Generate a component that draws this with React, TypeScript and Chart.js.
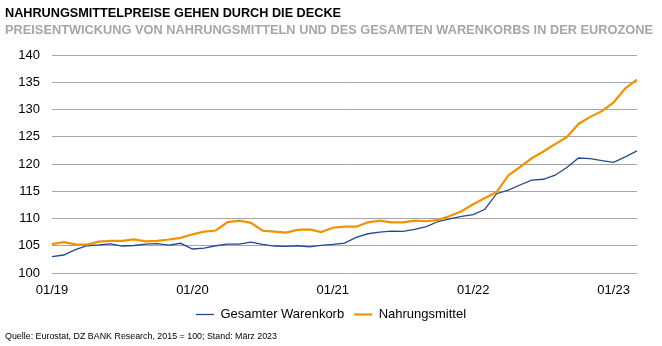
import React, { useEffect, useRef } from 'react';
import { Chart, registerables } from 'chart.js';

Chart.register(...registerables);

const labels: string[] = [
  '01/19', '02/19', '03/19', '04/19', '05/19', '06/19', '07/19', '08/19', '09/19', '10/19', '11/19', '12/19',
  '01/20', '02/20', '03/20', '04/20', '05/20', '06/20', '07/20', '08/20', '09/20', '10/20', '11/20', '12/20',
  '01/21', '02/21', '03/21', '04/21', '05/21', '06/21', '07/21', '08/21', '09/21', '10/21', '11/21', '12/21',
  '01/22', '02/22', '03/22', '04/22', '05/22', '06/22', '07/22', '08/22', '09/22', '10/22', '11/22', '12/22',
  '01/23', '02/23', '03/23',
];

const gesamterWarenkorb: number[] = [
  103.0, 103.3, 104.3, 105.0, 105.15, 105.35, 104.95, 105.05, 105.3, 105.4, 105.1, 105.45,
  104.4, 104.55, 105.0, 105.3, 105.3, 105.65, 105.25, 104.95, 104.9, 105.0, 104.8, 105.05,
  105.25, 105.5, 106.55, 107.2, 107.5, 107.7, 107.65, 108.0, 108.5, 109.45, 109.95, 110.4,
  110.7, 111.7, 114.55, 115.2, 116.15, 117.05, 117.2, 117.95, 119.35, 121.1, 121.0, 120.6,
  120.3, 121.3, 122.4,
];

const nahrungsmittel: number[] = [
  105.3, 105.65, 105.25, 105.2, 105.75, 105.9, 105.9, 106.15, 105.8, 105.9, 106.15, 106.45,
  107.1, 107.6, 107.8, 109.35, 109.6, 109.2, 107.75, 107.6, 107.4, 107.9, 108.0, 107.5,
  108.3, 108.5, 108.5, 109.3, 109.6, 109.3, 109.3, 109.6, 109.5, 109.75, 110.45, 111.35,
  112.6, 113.75, 114.85, 117.9, 119.45, 121.05, 122.3, 123.65, 124.95, 127.35, 128.65, 129.7,
  131.3, 133.9, 135.5,
];

const yMin = 100;
const yMax = 140;
const yStep = 5;

const title = 'NAHRUNGSMITTELPREISE GEHEN DURCH DIE DECKE';
const subtitle = 'PREISENTWICKUNG VON NAHRUNGSMITTELN UND DES GESAMTEN WARENKORBS IN DER EUROZONE';
const source = 'Quelle: Eurostat, DZ BANK Research, 2015 = 100; Stand: März 2023';

const regular = "'Liberation Sans', Arial, sans-serif";

export default function App() {
  const ref = useRef<HTMLCanvasElement>(null);

  useEffect(() => {
    document.body.style.margin = '0';
    const ctx = ref.current!.getContext('2d')!;
    const chart = new Chart(ctx, {
      type: 'line',
      data: {
        labels,
        datasets: [
          {
            label: 'Gesamter Warenkorb',
            data: gesamterWarenkorb,
            borderColor: '#23488f',
            backgroundColor: '#23488f',
            borderWidth: 1.3,
            pointRadius: 0,
            tension: 0,
            order: 1,
          },
          {
            label: 'Nahrungsmittel',
            data: nahrungsmittel,
            borderColor: '#f39200',
            backgroundColor: '#f39200',
            borderWidth: 2.2,
            pointRadius: 0,
            tension: 0,
            order: 0,
          },
        ],
      },
      options: {
        responsive: false,
        animation: false,
        layout: { padding: { top: 55, right: 0, left: 0, bottom: 15 } },
        plugins: {
          tooltip: { enabled: false },
          legend: {
            position: 'bottom',
            labels: {
              usePointStyle: true,
              pointStyle: 'line',
              pointStyleWidth: 18,
              color: '#000',
              font: { family: regular, size: 13 },
              padding: 10,
              sort: (a: any, b: any) => a.datasetIndex - b.datasetIndex,
            },
          },
        },
        scales: {
          x: {
            offset: false,
            afterFit: (s: any) => { s.height = 25; },
            grid: { display: false, drawTicks: false },
            border: { display: false },
            ticks: {
              autoSkip: false,
              maxRotation: 0,
              color: '#000',
              font: { family: regular, size: 13 },
              padding: 10,
              callback: (v: any, i: number) => (labels[i].startsWith('01/') ? labels[i] : ''),
            },
          },
          y: {
            min: yMin,
            max: yMax,
            afterFit: (s: any) => { s.width = 52; },
            grid: { color: '#a6a6a6', lineWidth: 1, drawTicks: false },
            border: { display: false },
            ticks: {
              stepSize: yStep,
              color: '#000',
              font: { family: regular, size: 13 },
              padding: 12,
            },
          },
          yRight: {
            type: 'linear',
            position: 'right',
            min: yMin,
            max: yMax,
            afterFit: (s: any) => { s.width = 25; },
            grid: { display: false, drawTicks: false },
            border: { display: false },
            ticks: { display: false },
          },
        },
      },
    });
    return () => chart.destroy();
  }, []);

  return (
    <div style={{ position: 'relative', width: 662, height: 346, background: '#fff' }}>
      <canvas ref={ref} width={662} height={346} style={{ position: 'absolute', left: 0, top: 0 }} />
      <svg width={662} height={346} style={{ position: 'absolute', left: 0, top: 0, pointerEvents: 'none' }}>
        <text x={5} y={16.7} fontFamily={regular} fontWeight="bold" fontSize={13} fill="#000"
          textLength={336} lengthAdjust="spacingAndGlyphs">{title}</text>
        <text x={5} y={34.3} fontFamily={regular} fontWeight="bold" fontSize={13} fill="#a6a6a6"
          textLength={648} lengthAdjust="spacingAndGlyphs">{subtitle}</text>
        <text x={5} y={339} fontFamily={regular} fontSize={9} fill="#000"
          textLength={272} lengthAdjust="spacingAndGlyphs">{source}</text>
      </svg>
    </div>
  );
}
